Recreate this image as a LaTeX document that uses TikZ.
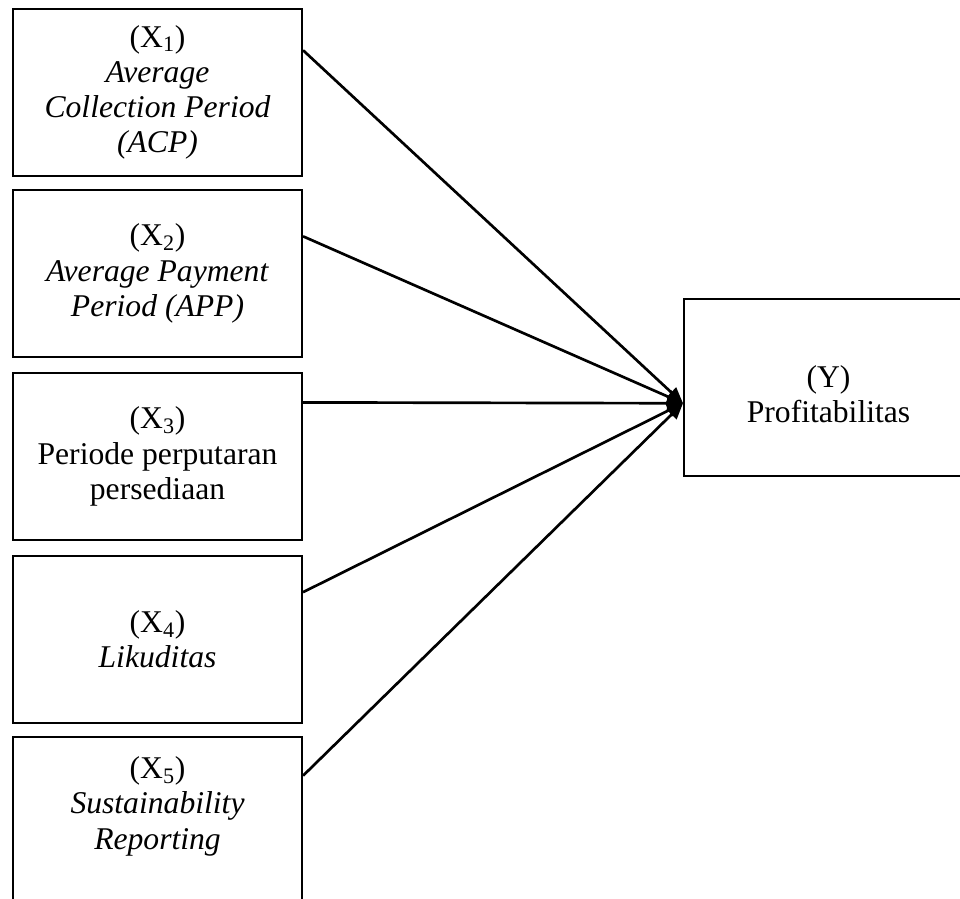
\documentclass[tikz,border=0pt]{standalone}
\usepackage{fontspec}
\setmainfont{Liberation Serif}
\usetikzlibrary{calc,arrows.meta}

\begin{document}
\begin{tikzpicture}[x=0.025cm,y=-0.025cm,
    varbox/.style={draw, line width=1.4pt, minimum width=7.225cm, minimum height=4.175cm,
      inner sep=0pt, align=center, anchor=north west,
      font=\fontsize{22.5}{25}\selectfont},
    link/.style={line width=1.9pt, -{Triangle[length=0.4cm,width=0.34cm]}}]
	%%%%% START %%%%%
	\clip (0,0) rectangle (960,899);
	\def\xl{12}
	\def\xr{683}

	\node[varbox] (x1) at (\xl,8) {(X\textsubscript{1})\\\textit{Average}\\\textit{Collection Period}\\\textit{(ACP)}};
	\node[varbox] (x2) at (\xl,189) {(X\textsubscript{2})\\\textit{Average Payment}\\\textit{Period (APP)}};
	\node[varbox] (x3) at (\xl,372) {(X\textsubscript{3})\\Periode perputaran\\persediaan};
	\node[varbox] (x4) at (\xl,555) {(X\textsubscript{4})\\\textit{Likuditas}};
	\node[varbox] (x5) at (\xl,736) {(X\textsubscript{5})\\\textit{Sustainability}\\\textit{Reporting}\\~};

	\node[varbox, minimum height=4.425cm] (y) at (\xr,298) {~\\(Y)\\Profitabilitas};

	\coordinate (tip) at ($(y.north west)!0.588!(y.south west)$);
	\foreach \n/\f in {x1/0.25, x2/0.28, x3/0.18, x4/0.22, x5/0.235}
		\draw[link] ($(\n.north east)!\f!(\n.south east)$) -- (tip);
	%%%%% END %%%%%
\end{tikzpicture}
\end{document}
